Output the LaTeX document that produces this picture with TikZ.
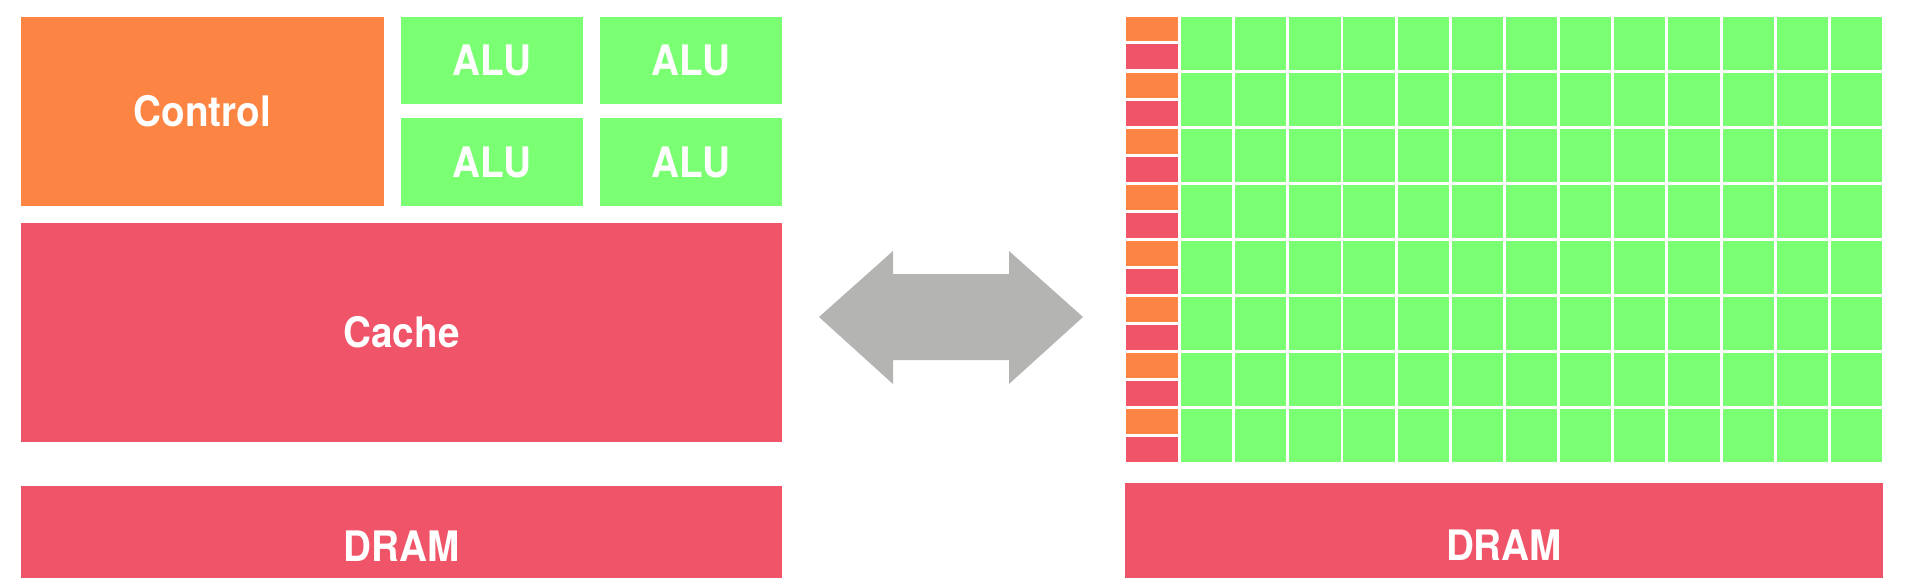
\documentclass[tikz,border=0pt]{standalone}
\usepackage{fontspec}
\setmainfont[FakeStretch=0.92]{TeX Gyre Heros}
\definecolor{ctrl}{HTML}{FD8543}
\definecolor{alu}{HTML}{7BFF73}
\definecolor{mem}{HTML}{EF5469}
\definecolor{arr}{HTML}{B4B4B3}
\tikzset{
  blk/.style={draw=none, inner sep=0pt, outer sep=0pt, anchor=north west,
    text=white, font=\fontsize{42}{42}\selectfont\bfseries},
  cell/.style={draw=none, inner sep=0pt, outer sep=0pt, anchor=north west}
}
\begin{document}
\begin{tikzpicture}[x=1pt,y=-1pt]
\useasboundingbox (0,0) rectangle (1922,578);
\clip (0,0) rectangle (1922,578);
\fill[white] (0,0) rectangle (1922,578);
% CPU side
\node[blk, fill=ctrl, minimum width=363pt, minimum height=189pt] (control) at (21,17) {Control};
\node[blk, fill=alu, minimum width=182pt, minimum height=87pt] (alu1) at (401,17) {ALU};
\node[blk, fill=alu, minimum width=182pt, minimum height=87pt] (alu2) at (600,17) {ALU};
\node[blk, fill=alu, minimum width=182pt, minimum height=88pt] (alu3) at (401,118) {ALU};
\node[blk, fill=alu, minimum width=182pt, minimum height=88pt] (alu4) at (600,118) {ALU};
\node[blk, fill=mem, minimum width=761pt, minimum height=219pt] (cache) at (21,223) {Cache};
\node[blk, fill=mem, minimum width=761pt, minimum height=120pt] (dram1) at (21,486) {DRAM};
% double arrow
\fill[arr] (819,317) -- (893,251) -- (893,274) -- (1009,274) -- (1009,251) -- (1083,317)
  -- (1009,384) -- (1009,360) -- (893,360) -- (893,384) -- cycle;
% GPU side
\foreach \r in {0,...,7}{
  \pgfmathsetmacro{\ry}{17+56*\r}
  \node[cell, fill=ctrl, minimum width=52pt, minimum height=24.5pt] (o\r) at (1126,\ry) {};
  \node[cell, fill=mem, minimum width=52pt, minimum height=25pt] (m\r) at (1126,\ry+27.5) {};
  \foreach \c in {0,...,12}{
    \pgfmathsetmacro{\cx}{1181+54.15*\c}
    \node[cell, fill=alu, minimum width=51.2pt, minimum height=53pt] (g\r-\c) at (\cx,\ry) {};
  }
}
\node[blk, fill=mem, minimum width=758pt, minimum height=125pt] (dram2) at (1125,483) {DRAM};
\end{tikzpicture}
\end{document}
